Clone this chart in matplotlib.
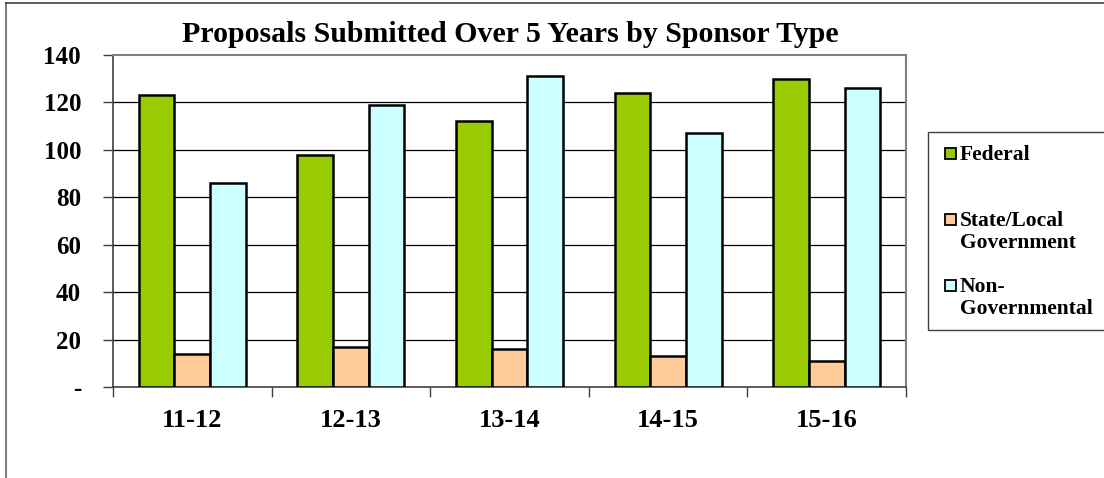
import matplotlib
matplotlib.use("Agg")
import matplotlib.pyplot as plt
from matplotlib.patches import Rectangle
import numpy as np

categories = ["11-12", "12-13", "13-14", "14-15", "15-16"]
federal = [123, 98, 112, 124, 130]
state_local = [14, 17, 16, 13, 11]
non_gov = [86, 119, 131, 107, 126]
series_names = ["Federal", "State/Local\nGovernment", "Non-\nGovernmental"]
colors = ["#99CC00", "#FFCC99", "#CCFFFF"]
yticks = [0, 20, 40, 60, 80, 100, 120, 140]
ytick_labels = ["-", "20", "40", "60", "80", "100", "120", "140"]

W, H = 1104, 478
fig = plt.figure(figsize=(W / 100, H / 100), dpi=100)
plt.rcParams['font.family'] = ['Liberation Serif', 'DejaVu Serif']

def fx(px):
    return px / W

def fy(py):
    return 1 - py / H

# outer chart border (left and top visible)
fig.add_artist(plt.Line2D([fx(6), fx(6)], [fy(3), 0], transform=fig.transFigure,
                          color="#808080", lw=1.5))
fig.add_artist(plt.Line2D([fx(6), 1], [fy(3), fy(3)], transform=fig.transFigure,
                          color="#404040", lw=1.2))

left, right, top, bottom = 113, 906, 55, 387
ax = fig.add_axes([fx(left), fy(bottom), fx(right - left), (bottom - top) / H])

x = np.arange(len(categories))
bw = 0.225
data = [federal, state_local, non_gov]
for i, (vals, c) in enumerate(zip(data, colors)):
    ax.bar(x + (i - 1) * bw, vals, width=bw, color=c, edgecolor="black",
           linewidth=1.8, zorder=3)

ax.set_xlim(-0.5, len(categories) - 0.5)
ax.set_ylim(0, 140)
ax.set_yticks(yticks)
ax.set_yticklabels(ytick_labels, fontsize=18, fontweight="bold")
ax.set_xticks(x)
ax.set_xticklabels(categories, fontsize=19, fontweight="bold")
ax.set_xticks(np.arange(-0.5, len(categories), 1.0), minor=True)
ax.tick_params(axis="x", which="major", length=0, pad=15.5)
ax.tick_params(axis="x", which="minor", length=7, width=1, color="#404040", direction="out")
ax.tick_params(axis="y", length=7, width=1, color="#404040", direction="out", pad=16)

for yv in yticks[1:-1]:
    ax.axhline(yv, color="black", lw=0.9, zorder=1)

ax.spines["top"].set_color("#808080")
ax.spines["right"].set_color("#808080")
ax.spines["top"].set_linewidth(1.5)
ax.spines["right"].set_linewidth(1.5)
ax.spines["left"].set_color("#404040")
ax.spines["bottom"].set_color("#404040")
ax.spines["left"].set_linewidth(1.2)
ax.spines["bottom"].set_linewidth(1.2)

fig.text(fx(510), fy(42), "Proposals Submitted Over 5 Years by Sponsor Type",
         ha="center", va="baseline", fontsize=21.5, fontweight="bold")

# legend
fig.add_artist(Rectangle((fx(928), fy(330)), fx(1110 - 928), (330 - 132) / H,
                         transform=fig.transFigure, fill=False, edgecolor="#404040", lw=1.0))
entries_y = [153, 219, 285]
for name, c, yy in zip(series_names, colors, entries_y):
    fig.add_artist(Rectangle((fx(945), fy(yy + 6)), fx(11), 11 / H,
                             transform=fig.transFigure, facecolor=c,
                             edgecolor="black", lw=1.3))
    fig.text(fx(960), fy(yy - 8), name, ha="left", va="top", fontsize=15.5,
             fontweight="bold", linespacing=1.15)

fig.savefig("out.png", dpi=100, facecolor="white")
